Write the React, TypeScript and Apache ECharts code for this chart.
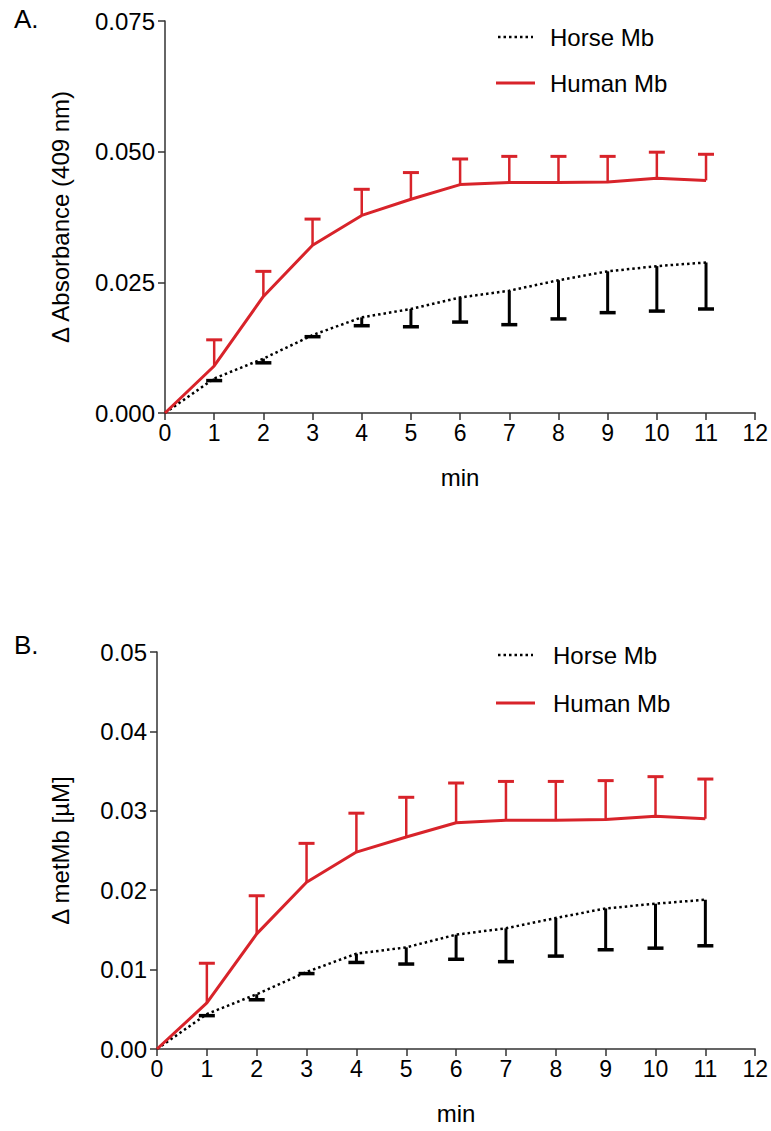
import React, { useEffect, useRef } from "react";
import * as echarts from "echarts";

const minutes = [0, 1, 2, 3, 4, 5, 6, 7, 8, 9, 10, 11];

// Panel A: Δ Absorbance (409 nm)
const horseA = [0, 0.0066, 0.0104, 0.0149, 0.0183, 0.0199, 0.0221, 0.0234, 0.0254, 0.0271, 0.0281, 0.0288];
const horseALower = [0, 0.0062, 0.0096, 0.0146, 0.0167, 0.0165, 0.0174, 0.0169, 0.018, 0.0192, 0.0195, 0.0199];
const humanA = [0, 0.009, 0.0223, 0.0321, 0.0378, 0.0409, 0.0437, 0.0441, 0.0441, 0.0442, 0.0449, 0.0445];
const humanAUpper = [0, 0.014, 0.0271, 0.0371, 0.0428, 0.046, 0.0486, 0.0491, 0.0491, 0.0491, 0.0499, 0.0495];

// Panel B: Δ metMb [µM]
const horseB = [0, 0.0044, 0.0069, 0.0097, 0.012, 0.0128, 0.0144, 0.0152, 0.0165, 0.0177, 0.0183, 0.0188];
const horseBLower = [0, 0.0042, 0.0062, 0.0095, 0.0109, 0.0107, 0.0113, 0.011, 0.0117, 0.0125, 0.0127, 0.013];
const humanB = [0, 0.0058, 0.0145, 0.021, 0.0248, 0.0267, 0.0285, 0.0288, 0.0288, 0.0289, 0.0293, 0.029];
const humanBUpper = [0, 0.0108, 0.0193, 0.0259, 0.0297, 0.0317, 0.0335, 0.0337, 0.0337, 0.0338, 0.0343, 0.034];

const seriesNames = ["Horse Mb", "Human Mb"];
const RED = "#d8232a";
const BLACK = "#000000";
const FONT = "'Liberation Sans', Arial, Helvetica, sans-serif";
const DOTS = [2.5, 3];

function pairs(vals: number[]) {
  return minutes.map((m, i) => [m, vals[i]]);
}
function errData(mean: number[], bound: number[]) {
  return minutes.slice(1).map((m, i) => [m, mean[i + 1], bound[i + 1]]);
}

function errorSeries(data: number[][], color: string, idx: number) {
  return {
    type: "custom",
    xAxisIndex: idx,
    yAxisIndex: idx,
    data,
    encode: { x: 0, y: [1, 2] },
    silent: true,
    z: 1,
    renderItem: (params: any, api: any) => {
      const x = api.value(0);
      const p0 = api.coord([x, api.value(1)]);
      const p1 = api.coord([x, api.value(2)]);
      const hw = 8;
      return {
        type: "group",
        children: [
          {
            type: "line",
            shape: { x1: p0[0], y1: p0[1], x2: p1[0], y2: p1[1] },
            style: { stroke: color, lineWidth: color === RED ? 2.5 : 3 },
          },
          {
            type: "line",
            shape: { x1: p1[0] - hw, y1: p1[1], x2: p1[0] + hw, y2: p1[1] },
            style: { stroke: color, lineWidth: color === RED ? 3 : 3.5 },
          },
        ],
      };
    },
  };
}

function lineSeries(name: string, vals: number[], idx: number) {
  const horse = name === seriesNames[0];
  return {
    name,
    type: "line",
    xAxisIndex: idx,
    yAxisIndex: idx,
    data: pairs(vals),
    symbol: "none",
    showSymbol: false,
    z: 3,
    lineStyle: horse
      ? { color: BLACK, width: 2.5, type: DOTS }
      : { color: RED, width: 3 },
    itemStyle: { color: horse ? BLACK : RED },
  };
}

const axisLineStyle = { color: "#333", width: 1.5 };

function xAxis(idx: number) {
  return {
    type: "value",
    gridIndex: idx,
    min: 0,
    max: 12,
    interval: 1,
    name: "min",
    nameLocation: "middle",
    nameGap: 52,
    nameTextStyle: { fontSize: 24, color: "#000", fontFamily: FONT },
    splitLine: { show: false },
    axisLine: { lineStyle: axisLineStyle },
    axisTick: { length: 7, lineStyle: axisLineStyle },
    axisLabel: { fontSize: 23, color: "#000", margin: 8, fontFamily: FONT },
  };
}

function yAxis(idx: number, max: number, interval: number, decimals: number, name: string) {
  return {
    type: "value",
    gridIndex: idx,
    min: 0,
    max,
    interval,
    name,
    nameLocation: "middle",
    nameGap: idx === 0 ? 93 : 85,
    nameTextStyle: { fontSize: 24, color: "#000", fontFamily: FONT },
    splitLine: { show: false },
    axisLine: { lineStyle: axisLineStyle },
    axisTick: { length: 7, lineStyle: axisLineStyle },
    axisLabel: {
      fontSize: 24,
      color: "#000",
      margin: 10,
      fontFamily: FONT,
      formatter: (v: number) => v.toFixed(decimals),
    },
  };
}

function legendGraphics(textX: number, y1: number, y2: number) {
  return [
    {
      type: "line",
      shape: { x1: 498, y1, x2: 533, y2: y1 },
      style: { stroke: BLACK, lineWidth: 2.5, lineDash: DOTS },
    },
    {
      type: "text",
      x: textX,
      y: y1,
      style: { text: seriesNames[0], fontSize: 24, fill: "#000", fontFamily: FONT, verticalAlign: "middle" },
    },
    {
      type: "line",
      shape: { x1: 496, y1: y2, x2: 535, y2 },
      style: { stroke: RED, lineWidth: 3 },
    },
    {
      type: "text",
      x: textX,
      y: y2,
      style: { text: seriesNames[1], fontSize: 24, fill: "#000", fontFamily: FONT, verticalAlign: "middle" },
    },
  ];
}

export default function App() {
  const ref = useRef<HTMLDivElement>(null);
  useEffect(() => {
    if (!ref.current) return;
    const chart = echarts.init(ref.current, undefined, { renderer: "svg" });
    chart.setOption({
      animation: false,
      backgroundColor: "#fff",
      textStyle: { fontFamily: FONT },
      grid: [
        { left: 165, right: 14, top: 21, height: 392 },
        { left: 157, right: 13, top: 652, height: 397 },
      ],
      xAxis: [xAxis(0), xAxis(1)],
      yAxis: [
        yAxis(0, 0.075, 0.025, 3, "Δ Absorbance (409 nm)"),
        yAxis(1, 0.05, 0.01, 2, "Δ metMb [µM]"),
      ],
      graphic: [
        { type: "text", left: 14, top: 6, style: { text: "A.", fontSize: 26, fill: "#000", fontFamily: FONT } },
        { type: "text", left: 14, top: 632, style: { text: "B.", fontSize: 26, fill: "#000", fontFamily: FONT } },
        ...legendGraphics(550, 37, 83),
        ...legendGraphics(553, 655, 703),
      ],
      series: [
        errorSeries(errData(horseA, horseALower), BLACK, 0),
        errorSeries(errData(humanA, humanAUpper), RED, 0),
        lineSeries(seriesNames[0], horseA, 0),
        lineSeries(seriesNames[1], humanA, 0),
        errorSeries(errData(horseB, horseBLower), BLACK, 1),
        errorSeries(errData(humanB, humanBUpper), RED, 1),
        lineSeries(seriesNames[0], horseB, 1),
        lineSeries(seriesNames[1], humanB, 1),
      ],
    });
    return () => chart.dispose();
  }, []);
  return (
    <div
      ref={ref}
      style={{ position: "absolute", left: 0, top: 0, width: 771, height: 1131, background: "#fff" }}
    />
  );
}
